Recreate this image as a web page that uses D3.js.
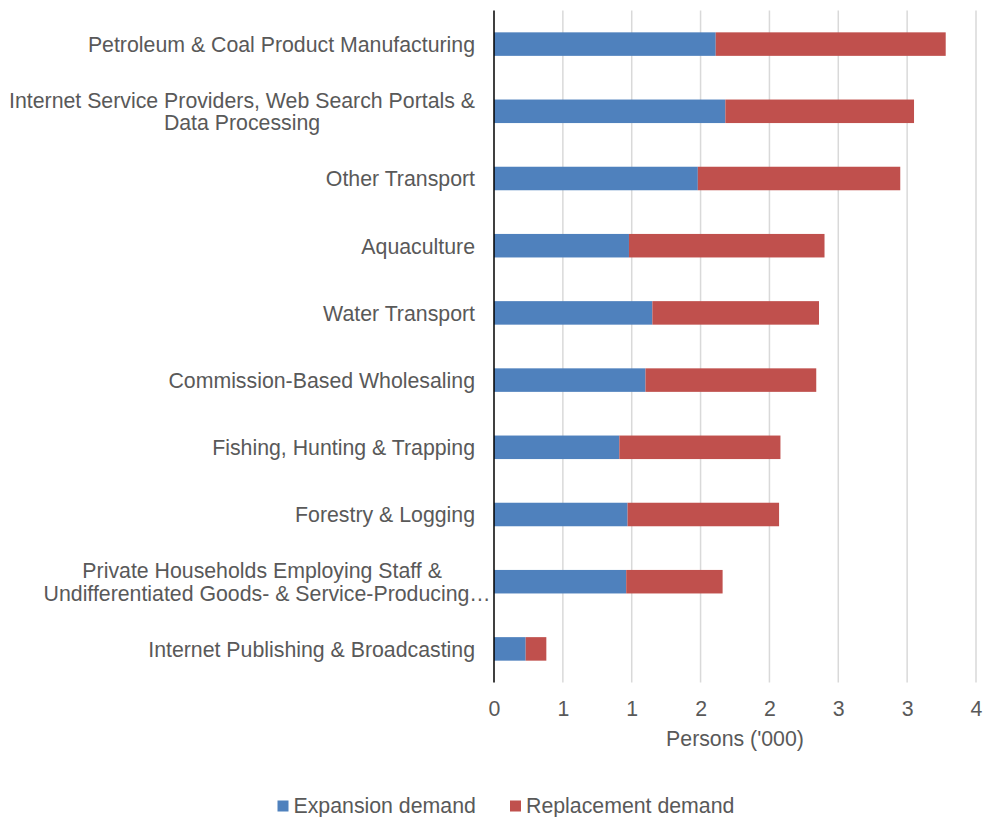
<!DOCTYPE html>
<html>
<head>
<meta charset="utf-8">
<script src="https://cdn.jsdelivr.net/npm/d3@7"></script>
<style>
    body { margin: 0; background: #fff; }
    svg text { font-family: "Liberation Sans", Arial, sans-serif; fill: #595959; }
</style>
</head>
<body>
<svg id="chart" width="984" height="817"></svg>
<script>
// data
var categories = [
    ["Petroleum & Coal Product Manufacturing"],
    ["Internet Service Providers, Web Search Portals &", "Data Processing"],
    ["Other Transport"],
    ["Aquaculture"],
    ["Water Transport"],
    ["Commission-Based Wholesaling"],
    ["Fishing, Hunting & Trapping"],
    ["Forestry & Logging"],
    ["Private Households Employing Staff &", "Undifferentiated Goods- & Service-Producing…"],
    ["Internet Publishing & Broadcasting"],
];
var expansionDemand = [1.61, 1.68, 1.48, 0.98, 1.15, 1.10, 0.91, 0.97, 0.96, 0.23];
var replacementDemand = [1.67, 1.37, 1.47, 1.42, 1.21, 1.24, 1.17, 1.10, 0.70, 0.15];
var seriesNames = ["Expansion demand", "Replacement demand"];
var xTickValues = [0, 0.5, 1, 1.5, 2, 2.5, 3, 3.5];
var xTickLabels = ["0", "1", "1", "2", "2", "3", "3", "4"];
var xTitle = "Persons ('000)";

var colors = ["#4f81bd", "#c0504d"];
var fontSize = "21.3px";

var svg = d3.select("#chart");

// scales
var xScale = d3.scaleLinear().domain([0, 3.5]).range([494, 976]);
var yScale = d3.scaleBand()
    .domain(d3.range(categories.length))
    .range([10.5, 682.5])
    .paddingInner(0.65)
    .paddingOuter(0.325);

// grid
svg.append("g")
    .selectAll("line")
    .data(xTickValues.filter(d => d > 0))
    .join("line")
    .attr("x1", d => xScale(d))
    .attr("x2", d => xScale(d))
    .attr("y1", 10.5)
    .attr("y2", 682.5)
    .attr("stroke", "#d9d9d9")
    .attr("stroke-width", 1.5);

// stacked bars
var rows = categories.map((c, i) => ({ i: i, values: [expansionDemand[i], replacementDemand[i]] }));
var stacked = d3.stack().keys([0, 1]).value((d, k) => d.values[k])(rows);

svg.append("g")
    .selectAll("g")
    .data(stacked)
    .join("g")
    .attr("fill", (s, k) => colors[k])
    .selectAll("rect")
    .data(s => s)
    .join("rect")
    .attr("x", d => xScale(d[0]))
    .attr("width", d => xScale(d[1]) - xScale(d[0]))
    .attr("y", d => yScale(d.data.i))
    .attr("height", yScale.bandwidth());

// category axis line
svg.append("line")
    .attr("x1", xScale(0))
    .attr("x2", xScale(0))
    .attr("y1", 10.5)
    .attr("y2", 682.5)
    .attr("stroke", "#000")
    .attr("stroke-width", 1.5);

// category labels (truncation ellipsis is allowed to overflow, like Excel)
var labelRight = 475;
var lineHeight = 22.5;
var labels = svg.append("g");
var measure = labels.append("text").style("font-size", fontSize).attr("opacity", 0);
function textWidth(s) {
    measure.text(s.replace(/…$/, ""));
    return measure.node().getComputedTextLength();
}
categories.forEach((lines, i) => {
    var cy = yScale(i) + yScale.bandwidth() / 2;
    var maxWidth = d3.max(lines, textWidth);
    var t = labels.append("text")
        .style("font-size", fontSize)
        .attr("text-anchor", "middle");
    lines.forEach((line, j) => t.append("tspan")
        .attr("x", labelRight - maxWidth / 2 + (line.endsWith("…") ? 5 : 0))
        .attr("y", cy + 7.8 + (j - (lines.length - 1) / 2) * lineHeight)
        .text(line));
});
measure.remove();

// x axis
var xAxis = svg.append("g")
    .attr("transform", "translate(0,682.5)")
    .call(d3.axisBottom(xScale)
        .tickValues(xTickValues)
        .tickFormat((d, i) => xTickLabels[i])
        .tickSize(0)
        .tickPadding(0));
xAxis.select(".domain").remove();
xAxis.selectAll("text")
    .attr("y", 33.5)
    .attr("dy", null)
    .style("font-size", fontSize)
    .style("font-family", "'Liberation Sans', Arial, sans-serif")
    .attr("fill", "#595959");

svg.append("text")
    .attr("x", (xScale(0) + xScale(3.5)) / 2)
    .attr("y", 746)
    .attr("text-anchor", "middle")
    .style("font-size", fontSize)
    .text(xTitle);

// legend
var legendX = [277.5, 510];
var legend = svg.append("g")
    .selectAll("g")
    .data(seriesNames)
    .join("g")
    .attr("transform", (d, i) => `translate(${legendX[i]},0)`);
legend.append("rect")
    .attr("x", 0)
    .attr("y", 800.5)
    .attr("width", 11)
    .attr("height", 11)
    .attr("fill", (d, i) => colors[i]);
legend.append("text")
    .attr("x", 16)
    .attr("y", 812.5)
    .style("font-size", fontSize)
    .text(d => d);
</script>
</body>
</html>
